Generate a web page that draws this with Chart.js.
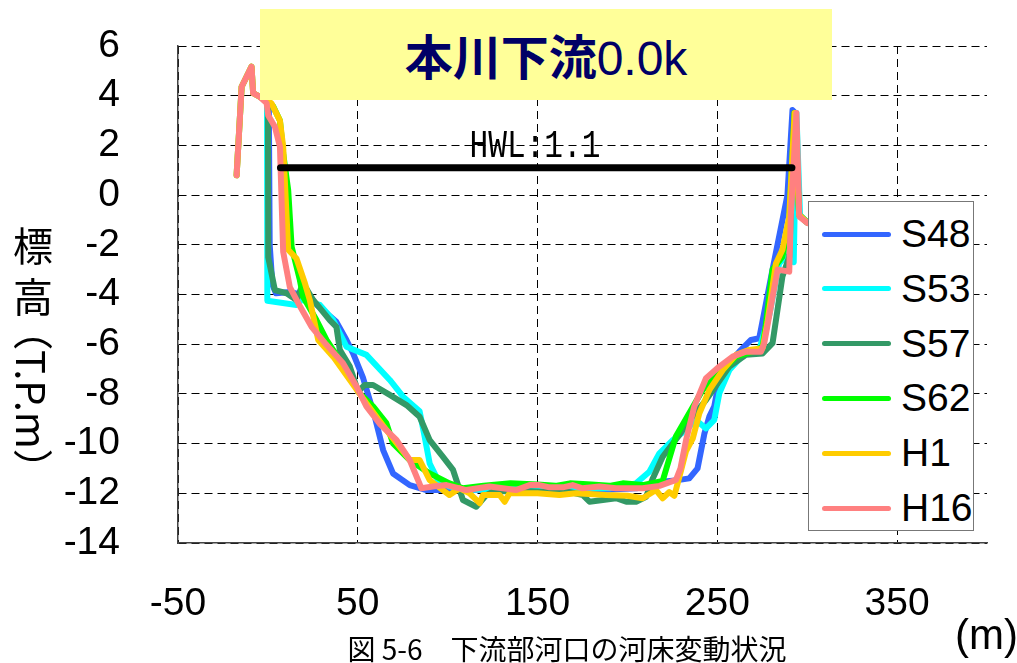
<!DOCTYPE html>
<html>
<head>
<meta charset="utf-8">
<script src="https://cdn.jsdelivr.net/npm/chart.js@4.4.1/dist/chart.umd.min.js"></script>
<style>
    html, body { margin: 0; padding: 0; background: #fff; }
    #wrap { position: relative; width: 1017px; height: 663px; overflow: hidden; font-family: "Liberation Sans", Arial, sans-serif; }
    #chart { position: absolute; left: 0; top: 0; }
    .title-box { position: absolute; left: 260px; top: 9px; width: 572px; height: 91px; background: #ffff99; color: #000066; text-align: center; line-height: 91px; font-size: 48px; white-space: nowrap; }
    .title-box .jp { font-family: "Noto Sans CJK JP", sans-serif; font-weight: 700; }
    .title-box .num { font-family: "Liberation Sans", Arial, sans-serif; }
    .hwl { position: absolute; left: 535px; top: 128px; font-family: "Liberation Mono", monospace; font-size: 38px; line-height: 1; color: #000; transform: translateX(-50%) scaleX(0.82); white-space: nowrap; }
    .yt { position: absolute; left: 13px; font-family: "Noto Sans CJK JP", sans-serif; font-size: 40px; line-height: 40px; color: #000; }
    .yt.v { writing-mode: vertical-rl; }
    .caption { position: absolute; left: 567px; top: 634px; transform: translateX(-50%); font-family: "Noto Sans CJK JP", sans-serif; font-size: 28px; line-height: 1; white-space: nowrap; color: #000; }
    .unit { position: absolute; left: 955px; top: 614px; font-size: 42px; line-height: 1; color: #000; }
    #legend { position: absolute; left: 808px; top: 201px; width: 164px; height: 328px; border: 1.5px solid #777; background: #fff; }
    #legend .row { position: absolute; left: 0; width: 164px; height: 0; }
    #legend .swatch { position: absolute; left: 13px; top: -2.5px; width: 69px; height: 5px; border-radius: 3px; }
    #legend .name { position: absolute; left: 92px; top: -22px; font-size: 39px; line-height: 44px; color: #000; }
</style>
</head>
<body>
<div id="wrap">
    <canvas id="chart" width="1017" height="663"></canvas>
    <div class="title-box"><span class="jp">本川下流</span><span class="num">0.0k</span></div>
    <div class="hwl">HWL:1.1</div>
    <div class="yt" style="top:224px">標</div>
    <div class="yt" style="top:275px">高</div>
    <div class="yt v" style="top:310px">（T.P.m）</div>
    <div id="legend"></div>
    <div class="caption">図 5-6　下流部河口の河床変動状況</div>
    <div class="unit">(m)</div>
</div>
<script>
// cross-section data, x = distance (m), y = elevation (T.P.m)
const X_TICKS = [-50, 50, 150, 250, 350];
const Y_TICKS = [-14, -12, -10, -8, -6, -4, -2, 0, 2, 4, 6];

const SERIES_NAMES = ['S48', 'S53', 'S57', 'S62', 'H1', 'H16'];
const SERIES_COLORS = ['#3366ff', '#00ffff', '#339966', '#00ff00', '#ffcc00', '#ff8080'];

const S48_X = [0.5, 1.0, 2.5, 4.5, 12.2, 17.8, 27, 38.1, 43.7, 47.4, 53, 59.4, 64.1, 69.6, 78.9, 88.2, 101, 115, 130, 145, 160, 175, 190, 205, 219.6, 228.9, 234.4, 239, 242.8, 245.6, 248.3, 251.1, 254.8, 262.2, 268.7, 273.3, 280.7, 289, 291.8, 293.5, 295.5, 300];
const S48_Y = [4.0, -2.0, -3.6, -3.95, -3.9, -4.0, -4.4, -5.1, -5.83, -6.37, -7.37, -8.9, -10.26, -11.2, -11.67, -11.87, -11.87, -11.85, -11.9, -11.85, -11.9, -11.85, -11.85, -11.8, -11.53, -11.46, -11.4, -11.0, -9.6, -8.9, -8.5, -7.44, -6.9, -6.3, -5.83, -5.76, -3.0, 0.0, 3.42, 3.3, -0.8, -1.1];

const S53_X = [-0.5, -0.3, 15.9, 18.7, 28.9, 36.3, 43.7, 54.8, 67.8, 75.2, 84.4, 87.2, 90, 94.6, 101, 110, 125, 140, 160, 175, 190, 204.8, 212.2, 217.8, 225.2, 232.6, 238.1, 243.7, 248.3, 251.1, 256.7, 265.9, 273.3, 279, 284.4, 288.1, 292.5, 294, 296, 300];
const S53_Y = [4.0, -4.25, -4.42, -4.22, -4.42, -5.03, -6.1, -6.43, -7.44, -8.11, -8.7, -9.72, -10.8, -11.47, -11.73, -11.85, -11.85, -11.8, -11.87, -11.8, -11.8, -11.6, -11.13, -10.39, -9.86, -9.45, -9.05, -9.39, -9.05, -7.98, -7.04, -6.3, -6.23, -4.8, -2.75, -2.48, -2.7, 3.3, -0.8, -1.1];

const S57_X = [0, 0.2, 3.9, 10.4, 15.9, 19.6, 25.2, 34.4, 38.1, 40, 45.6, 50.2, 53.9, 58.5, 67.8, 77.1, 84.4, 90, 97.4, 103, 108.5, 115.9, 121.5, 125.2, 140, 155, 165, 175.2, 178.9, 186.3, 193.7, 199.3, 204.8, 210.4, 214.1, 219.6, 228.9, 234.4, 243.7, 256.7, 265.9, 275.2, 280.7, 286.2, 290, 292.8, 295.5, 300];
const S57_Y = [4.2, -2.5, -3.82, -3.95, -4.22, -3.55, -4.22, -5.03, -5.3, -6.23, -6.9, -7.91, -7.64, -7.64, -8.04, -8.45, -8.92, -9.86, -10.53, -11.06, -12.27, -12.54, -12.07, -11.93, -11.9, -11.95, -11.9, -12.07, -12.34, -12.27, -12.2, -12.34, -12.34, -12.14, -11.4, -10.53, -9.65, -9.05, -8.25, -6.9, -6.43, -6.37, -5.96, -3.28, -2.48, 3.3, -0.8, -1.1];

const S62_X = [-17.4, -14.6, -9.1, -8.2, -4.4, 0, 3, 6.7, 8.5, 11.3, 13.2, 17.8, 19.6, 27, 32.6, 40, 45.6, 51.1, 58.5, 65.9, 69.6, 78.9, 90, 101, 108.5, 120, 135, 150, 160, 168, 180, 190, 197.4, 208.5, 219.6, 223.3, 227, 232.6, 241.8, 251.1, 260.4, 269.6, 275.2, 277, 280.7, 286.2, 290, 293, 295.5, 300];
const S62_Y = [0.8, 4.36, 5.17, 4.1, 3.95, 3.8, 3.56, 3.0, 1.68, 0.2, -2.08, -3.42, -4.09, -5.03, -5.83, -6.64, -7.3, -7.98, -8.5, -9.18, -9.99, -10.66, -11.2, -11.6, -11.8, -11.7, -11.6, -11.65, -11.7, -11.6, -11.65, -11.7, -11.6, -11.67, -11.5, -10.6, -9.7, -9.0, -7.84, -7.17, -6.5, -6.3, -6.1, -5.2, -3.0, -2.48, -1.0, 3.3, -0.8, -1.1];

const H1_X = [-17.4, -14.6, -9.1, -8.2, -4.4, 0, 2, 6.7, 8.5, 11.3, 15.9, 20.6, 23.3, 28, 36.3, 45.6, 54.8, 65.9, 78.9, 84.4, 90, 101, 106.7, 112.2, 117.8, 119.6, 128.9, 131.7, 134.4, 150, 162.2, 171.5, 188.1, 200, 208.5, 215.9, 219.6, 223.3, 226.1, 228.9, 232.6, 236.3, 240, 245.6, 253, 260.4, 267.8, 275.2, 277.9, 282.6, 286.2, 290, 293, 295.5, 300];
const H1_Y = [0.8, 4.36, 5.17, 4.1, 3.95, 3.8, 3.69, 3.0, 1.95, -2.2, -2.55, -3.55, -4.22, -5.83, -6.5, -7.44, -8.38, -9.45, -10.66, -10.66, -11.47, -12.07, -11.8, -12.0, -12.4, -12.07, -12.07, -12.34, -12.0, -12.0, -12.07, -12.0, -12.07, -12.1, -12.2, -11.87, -12.2, -11.95, -12.1, -11.33, -10.3, -9.8, -8.78, -7.84, -7.04, -6.43, -6.23, -6.16, -5.1, -2.75, -2.2, -0.87, 3.3, -0.8, -1.1];

const H16_X = [-17.4, -14.6, -9.1, -8.2, -4.4, -0.7, 0.2, 3.9, 6.7, 8.5, 12.2, 16.9, 24.3, 31.7, 41.8, 49.3, 54.8, 62.2, 71.5, 78.9, 85.4, 91.8, 99.3, 110.4, 123.3, 138, 145.6, 151, 156.7, 164, 169.5, 175, 184.4, 193.7, 208.5, 217.8, 227, 229.5, 232.6, 237.2, 243.7, 251.1, 258.5, 265.9, 274.3, 276.1, 283.5, 290, 290.9, 294, 295.6, 300.2];
const H16_Y = [0.8, 4.36, 5.17, 4.1, 3.95, 3.7, 3.2, 2.75, 1.95, -2.28, -3.7, -4.35, -5.3, -5.95, -6.77, -7.7, -8.5, -9.2, -9.85, -10.66, -11.8, -11.73, -11.67, -11.87, -11.73, -11.87, -11.67, -11.67, -11.76, -11.76, -11.67, -11.8, -11.73, -11.8, -11.8, -11.7, -11.46, -11.0, -9.86, -8.5, -7.37, -6.9, -6.5, -6.3, -6.3, -5.96, -3.0, -3.08, -0.8, 3.3, -0.87, -1.13];

// high water level line
const HWL_X = [7, 291.5];
const HWL_Y = [1.1, 1.1];

const SERIES_X = [S48_X, S53_X, S57_X, S62_X, H1_X, H16_X];
const SERIES_Y = [S48_Y, S53_Y, S57_Y, S62_Y, H1_Y, H16_Y];

function toPoints(xs, ys) {
    return xs.map((x, i) => ({ x: x, y: ys[i] }));
}

const datasets = SERIES_NAMES.map((name, i) => ({
    label: name,
    data: toPoints(SERIES_X[i], SERIES_Y[i]),
    borderColor: SERIES_COLORS[i],
    borderWidth: 6,
    borderJoinStyle: 'round',
    borderCapStyle: 'round',
    pointRadius: 0,
    tension: 0,
    fill: false,
    order: SERIES_NAMES.length - i   // H16 on top, S48 at the bottom
}));
datasets.push({
    label: 'HWL',
    data: toPoints(HWL_X, HWL_Y),
    borderColor: '#000',
    borderWidth: 7,
    borderCapStyle: 'round',
    pointRadius: 0,
    fill: false,
    order: 0
});

// legend box
let legendHtml = '';
SERIES_NAMES.forEach((name, i) => {
    const top = 32 + i * 54.8;
    legendHtml += `
        <div class="row" style="top:${top}px">
            <span class="swatch" style="background:${SERIES_COLORS[i]}"></span>
            <span class="name">${name}</span>
        </div>`;
});
document.getElementById('legend').innerHTML = legendHtml;

const tickFont = { family: '"Liberation Sans", Arial, sans-serif', size: 39 };

new Chart(document.getElementById('chart').getContext('2d'), {
    type: 'line',
    data: { datasets: datasets },
    options: {
        responsive: false,
        animation: false,
        layout: { padding: { top: 46, right: 30, left: 0, bottom: 0 } },
        plugins: {
            legend: { display: false },
            tooltip: { enabled: false }
        },
        scales: {
            x: {
                type: 'linear',
                min: -50,
                max: 400,
                afterBuildTicks: s => { s.ticks = X_TICKS.map(v => ({ value: v })); },
                afterFit: s => { s.height = 120; },
                grid: { color: '#000', lineWidth: 1, drawTicks: false },
                border: { display: true, color: '#444', width: 1.5, dash: [8, 5] },
                ticks: { color: '#000', font: tickFont, padding: 38, maxRotation: 0, autoSkip: false }
            },
            y: {
                type: 'linear',
                min: -14,
                max: 6,
                afterBuildTicks: s => { s.ticks = Y_TICKS.map(v => ({ value: v })); },
                afterFit: s => {
                    s.width = 178;
                    // tick padding would otherwise push the plot down
                    s.paddingTop = 0;
                    s.paddingBottom = 0;
                },
                grid: { color: '#000', lineWidth: 1, drawTicks: false },
                border: { display: true, color: '#444', width: 1.5, dash: [8, 5] },
                ticks: { color: '#000', font: tickFont, padding: 58, autoSkip: false }
            }
        }
    }
});
</script>
</body>
</html>
